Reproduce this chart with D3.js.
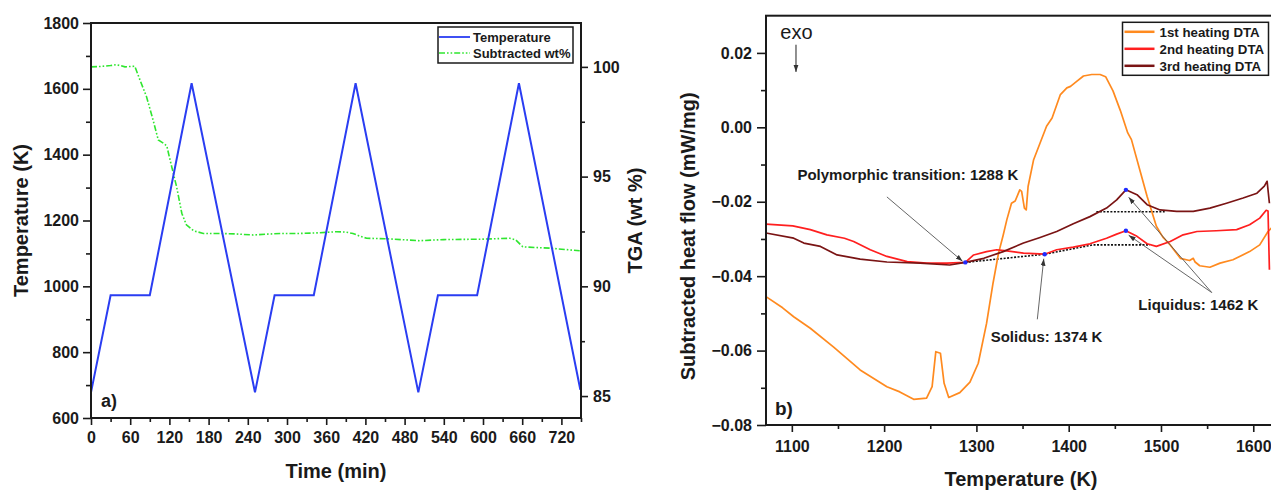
<!DOCTYPE html>
<html>
<head>
<meta charset="utf-8">
<script src="https://cdn.jsdelivr.net/npm/d3@7"></script>
<style>
  body { margin: 0; background: #fff; }
  svg { display: block; font-family: "Liberation Sans", Arial, sans-serif; }
</style>
</head>
<body>
<svg id="chart" width="1271" height="492"></svg>
<script>
// ---------- panel a) : heating cycles + TGA ----------
const cycleTime = [0, 30, 90, 154, 251, 281, 341, 405, 501, 531, 591, 655, 749];
const cycleTemp = [678, 973, 973, 1617, 678, 973, 973, 1617, 678, 973, 973, 1617, 686];

const tgaTime = [0, 15, 30, 39, 46, 52, 60, 67, 75, 85, 95, 103, 110, 116, 121, 131, 139, 146, 157, 172,
  197, 220, 248, 270, 294, 320, 350, 376, 390, 401, 412, 422, 450, 480, 503, 540, 570, 600, 620, 641,
  650, 661, 680, 702, 725, 748];
const tgaWt = [100.0, 100.02, 100.06, 100.1, 100.05, 100.0, 100.02, 100.03, 99.4, 98.64, 97.58, 96.67,
  96.54, 96.4, 95.76, 94.54, 93.33, 92.8, 92.53, 92.41, 92.41, 92.39, 92.34, 92.38, 92.41, 92.41, 92.44,
  92.49, 92.47, 92.41, 92.28, 92.19, 92.17, 92.12, 92.08, 92.13, 92.14, 92.15, 92.17, 92.19, 92.12,
  91.8, 91.77, 91.74, 91.68, 91.62];

const timeTicks = [0, 60, 120, 180, 240, 300, 360, 420, 480, 540, 600, 660, 720];
const tempTicks = [600, 800, 1000, 1200, 1400, 1600, 1800];
const wtTicks = [85, 90, 95, 100];
const legendA = ['Temperature', 'Subtracted wt%'];

// ---------- panel b) : DTA heating runs, [T (K), heat flow (mW/mg)] ----------
const heating1 = [[1072, -0.0455], [1090, -0.0485], [1102, -0.0509], [1120, -0.054], [1145, -0.059],
  [1174, -0.0652], [1203, -0.0697], [1217, -0.0711], [1232, -0.0731], [1246, -0.0728], [1252, -0.0697],
  [1256, -0.0603], [1261, -0.0607], [1265, -0.0688], [1270, -0.0726], [1282, -0.0713], [1293, -0.0685],
  [1302, -0.0634], [1311, -0.0527], [1318, -0.0419], [1324, -0.0338], [1329, -0.029], [1333, -0.0248],
  [1338, -0.0204], [1342, -0.0198], [1347, -0.0168], [1349, -0.0172], [1352, -0.0217], [1354, -0.0222],
  [1356, -0.0159], [1362, -0.0087], [1369, -0.0042], [1376, 0.0003], [1382, 0.0025], [1391, 0.0088],
  [1398, 0.0106], [1402, 0.011], [1409, 0.0124], [1416, 0.0138], [1425, 0.0142], [1434, 0.0142],
  [1440, 0.0136], [1448, 0.0098], [1456, 0.0045], [1464, -0.0015], [1468, -0.0033], [1477, -0.0114],
  [1485, -0.0186], [1495, -0.0266], [1502, -0.0295], [1510, -0.0316], [1521, -0.0352], [1531, -0.0358],
  [1535, -0.0352], [1537, -0.0362], [1542, -0.0372], [1553, -0.0376], [1564, -0.0365], [1578, -0.0356],
  [1596, -0.0334], [1607, -0.0316], [1616, -0.028], [1620, -0.027]];

const heating2 = [[1072, -0.026], [1101, -0.0265], [1120, -0.0275], [1138, -0.0289], [1157, -0.0298],
  [1167, -0.0307], [1185, -0.0329], [1203, -0.0347], [1225, -0.0361], [1246, -0.0365], [1268, -0.0365],
  [1288, -0.0363], [1297, -0.0343], [1311, -0.0334], [1322, -0.0329], [1333, -0.0332], [1351, -0.0338],
  [1374, -0.0341], [1387, -0.0329], [1405, -0.0322], [1423, -0.0313], [1441, -0.0298], [1452, -0.0287],
  [1462, -0.0278], [1474, -0.0293], [1485, -0.0313], [1495, -0.032], [1510, -0.0307], [1524, -0.0289],
  [1539, -0.028], [1560, -0.0278], [1582, -0.0275], [1596, -0.0262], [1607, -0.0244], [1614, -0.0223],
  [1616, -0.0225], [1617.5, -0.0383]];

const heating3 = [[1072, -0.0284], [1102, -0.0298], [1113, -0.0311], [1131, -0.032], [1149, -0.0343],
  [1174, -0.0354], [1203, -0.0362], [1239, -0.0365], [1271, -0.037], [1288, -0.0363], [1308, -0.0352],
  [1329, -0.0334], [1351, -0.0311], [1369, -0.0296], [1387, -0.028], [1405, -0.0259], [1423, -0.024],
  [1441, -0.0217], [1452, -0.0195], [1462, -0.0168], [1474, -0.0181], [1485, -0.0208], [1499, -0.0222],
  [1517, -0.0226], [1535, -0.0226], [1553, -0.0217], [1571, -0.0204], [1589, -0.019], [1604, -0.0177],
  [1612, -0.0158], [1615, -0.0145], [1617.5, -0.0204]];

const dtaNames = ['1st heating DTA', '2nd heating DTA', '3rd heating DTA'];
const dtaColors = ['#ff8a1f', '#ff1f1f', '#7a1414'];
const dtaTicks = [1100, 1200, 1300, 1400, 1500, 1600];
const heatTicks = [-0.08, -0.06, -0.04, -0.02, 0, 0.02];

// picked onsets/peaks and their dotted baselines
const markedPoints = [[1288, -0.0363], [1374, -0.0341], [1462, -0.0278], [1462, -0.0168]];
const baseline2 = [[1288, -0.0363], [1374, -0.0341], [1426, -0.0316], [1488, -0.0316]];
const baseline3 = [[1430, -0.0227], [1504, -0.0227]];

const notes = [
  { text: 'Polymorphic transition: 1288 K', at: [1106, -0.0141],
    arrows: [[[1203, -0.0187], [1285, -0.036]]] },
  { text: 'Solidus: 1374 K', at: [1315.5, -0.0576],
    arrows: [[[1366, -0.0516], [1373, -0.0353]]] },
  { text: 'Liquidus: 1462 K', at: [1475.5, -0.049],
    arrows: [[[1555, -0.0444], [1465, -0.0188]], [[1555, -0.0444], [1465, -0.029]]] },
];

// ---------- drawing ----------
const svg = d3.select('#chart');
const ink = '#1a1a1a';

svg.append('defs').append('marker')
  .attr('id', 'head')
  .attr('viewBox', '0 0 10 10')
  .attr('refX', 10).attr('refY', 5)
  .attr('markerWidth', 7).attr('markerHeight', 7)
  .attr('markerUnits', 'userSpaceOnUse')
  .attr('orient', 'auto')
  .append('path')
  .attr('d', 'M0,1.5L10,5L0,8.5Z')
  .attr('fill', '#333');

function styleAxis(g, fontSize) {
  g.select('.domain').remove();
  g.selectAll('.tick line').attr('stroke', ink).attr('stroke-width', 1.6);
  g.selectAll('.tick text')
    .attr('fill', ink)
    .style('font-size', `${fontSize}px`)
    .style('font-weight', 'bold');
}

function minorTicks(values) {
  const out = [];
  for (let i = 0; i < values.length - 1; i += 1) out.push((values[i] + values[i + 1]) / 2);
  return out;
}

const plain = d3.format('d');

// ----- panel a -----
const A = { left: 91, right: 581, top: 23, bottom: 418 };
const xA = d3.scaleLinear().domain([0, 750]).range([A.left, A.right]);
const yA = d3.scaleLinear().domain([600, 1800]).range([A.bottom, A.top]);
const yA2 = d3.scaleLinear().domain([84, 102]).range([A.bottom, A.top]);

const gA = svg.append('g');

gA.append('g').attr('transform', `translate(0,${A.bottom})`)
  .call(d3.axisBottom(xA).tickValues(minorTicks(timeTicks).concat([750])).tickSize(4).tickFormat(''))
  .call(g => styleAxis(g, 15));
gA.append('g').attr('transform', `translate(0,${A.bottom})`)
  .call(d3.axisBottom(xA).tickValues(timeTicks).tickSize(7).tickPadding(7).tickFormat(plain))
  .call(g => styleAxis(g, 16));

gA.append('g').attr('transform', `translate(${A.left},0)`)
  .call(d3.axisLeft(yA).tickValues(minorTicks(tempTicks)).tickSize(5).tickFormat(''))
  .call(g => styleAxis(g, 15));
gA.append('g').attr('transform', `translate(${A.left},0)`)
  .call(d3.axisLeft(yA).tickValues(tempTicks).tickSize(8).tickPadding(4).tickFormat(plain))
  .call(g => styleAxis(g, 16));

gA.append('g').attr('transform', `translate(${A.right},0)`)
  .call(d3.axisRight(yA2).tickValues(minorTicks(wtTicks)).tickSize(4).tickFormat(''))
  .call(g => styleAxis(g, 15));
gA.append('g').attr('transform', `translate(${A.right},0)`)
  .call(d3.axisRight(yA2).tickValues(wtTicks).tickSize(7).tickPadding(5).tickFormat(plain))
  .call(g => styleAxis(g, 16));

const tempLine = d3.line().x(d => xA(d[0])).y(d => yA(d[1]));
const wtLine = d3.line().x(d => xA(d[0])).y(d => yA2(d[1]));

gA.append('path')
  .datum(tgaTime.map((t, i) => [t, tgaWt[i]]))
  .attr('d', wtLine)
  .attr('fill', 'none')
  .attr('stroke', '#2fe62f')
  .attr('stroke-width', 1.6)
  .attr('stroke-dasharray', '6,2,1.6,2,1.6,2');

gA.append('path')
  .datum(cycleTime.map((t, i) => [t, cycleTemp[i]]))
  .attr('d', tempLine)
  .attr('fill', 'none')
  .attr('stroke', '#2a3df2')
  .attr('stroke-width', 2)
  .attr('stroke-linejoin', 'miter');

gA.append('rect')
  .attr('x', A.left).attr('y', A.top)
  .attr('width', A.right - A.left).attr('height', A.bottom - A.top)
  .attr('fill', 'none').attr('stroke', ink).attr('stroke-width', 2);

// legend a
const legA = gA.append('g').attr('transform', `translate(${A.right - 143},${A.top + 4})`);
legA.append('rect').attr('width', 135).attr('height', 36)
  .attr('fill', '#fff').attr('stroke', ink).attr('stroke-width', 1.5);
legendA.forEach((name, i) => {
  const y = 10 + i * 16;
  legA.append('line').attr('x1', 1).attr('x2', 32).attr('y1', y).attr('y2', y)
    .attr('stroke', i === 0 ? '#2a3df2' : '#2fe62f')
    .attr('stroke-width', i === 0 ? 1.8 : 1.6)
    .attr('stroke-dasharray', i === 0 ? null : '6,2,1.6,2,1.6,2');
  legA.append('text').attr('x', 35).attr('y', y + 5)
    .style('font-size', '13px').style('font-weight', 'bold').attr('fill', ink)
    .text(name);
});

gA.append('text').attr('x', A.left + 10).attr('y', A.bottom - 11)
  .style('font-size', '18px').style('font-weight', 'bold').attr('fill', ink).text('a)');

gA.append('text')
  .attr('transform', `translate(28,${(A.top + A.bottom) / 2}) rotate(-90)`)
  .attr('text-anchor', 'middle')
  .style('font-size', '20px').style('font-weight', 'bold').attr('fill', ink)
  .text('Temperature (K)');
gA.append('text')
  .attr('x', (A.left + A.right) / 2).attr('y', 478)
  .attr('text-anchor', 'middle')
  .style('font-size', '20px').style('font-weight', 'bold').attr('fill', ink)
  .text('Time (min)');
gA.append('text')
  .attr('transform', `translate(642,${(A.top + A.bottom) / 2}) rotate(-90)`)
  .attr('text-anchor', 'middle')
  .style('font-size', '20px').style('font-weight', 'bold').attr('fill', ink)
  .text('TGA (wt %)');

// ----- panel b -----
const B = { left: 766, right: 1272, top: 15.7, bottom: 425 };
const xB = d3.scaleLinear().domain([1072, 1620.3]).range([B.left, B.right]);
const yB = d3.scaleLinear().domain([-0.08, 0.03]).range([B.bottom, B.top]);

const gB = svg.append('g');

gB.append('g').attr('transform', `translate(0,${B.bottom})`)
  .call(d3.axisBottom(xB).tickValues(minorTicks(dtaTicks)).tickSize(4).tickFormat(''))
  .call(g => styleAxis(g, 16));
gB.append('g').attr('transform', `translate(0,${B.bottom})`)
  .call(d3.axisBottom(xB).tickValues(dtaTicks).tickSize(7).tickPadding(9).tickFormat(plain))
  .call(g => styleAxis(g, 16));

gB.append('g').attr('transform', `translate(${B.left},0)`)
  .call(d3.axisLeft(yB).tickValues(minorTicks(heatTicks)).tickSize(5).tickFormat(''))
  .call(g => styleAxis(g, 16));
gB.append('g').attr('transform', `translate(${B.left},0)`)
  .call(d3.axisLeft(yB).tickValues(heatTicks).tickSize(9).tickPadding(5).tickFormat(d3.format('.2f')))
  .call(g => styleAxis(g, 16));

const dtaLine = d3.line().x(d => xB(d[0])).y(d => yB(d[1]));
const plotB = gB.append('g');

[baseline2, baseline3].forEach(b => {
  plotB.append('path').datum(b).attr('d', dtaLine)
    .attr('fill', 'none').attr('stroke', '#111')
    .attr('stroke-width', 1.6).attr('stroke-dasharray', '2,1.5');
});

[heating1, heating2, heating3].forEach((series, i) => {
  plotB.append('path').datum(series).attr('d', dtaLine)
    .attr('fill', 'none').attr('stroke', dtaColors[i])
    .attr('stroke-width', 1.7).attr('stroke-linejoin', 'round');
});

plotB.selectAll('circle.mark').data(markedPoints).join('circle')
  .attr('class', 'mark')
  .attr('cx', d => xB(d[0])).attr('cy', d => yB(d[1])).attr('r', 2.2)
  .attr('fill', '#1f2bff');

notes.forEach(n => {
  n.arrows.forEach(([from, to]) => {
    plotB.append('line')
      .attr('x1', xB(from[0])).attr('y1', yB(from[1]))
      .attr('x2', xB(to[0])).attr('y2', yB(to[1]))
      .attr('stroke', '#555').attr('stroke-width', 0.9)
      .attr('marker-end', 'url(#head)');
  });
  plotB.append('text')
    .attr('x', xB(n.at[0])).attr('y', yB(n.at[1]))
    .style('font-size', '15px').style('font-weight', 'bold').attr('fill', ink)
    .text(n.text);
});

// exo marker
plotB.append('text').attr('x', xB(1087.5)).attr('y', yB(0.0237))
  .style('font-size', '20px').attr('fill', ink).text('exo');
plotB.append('line')
  .attr('x1', xB(1104.5)).attr('y1', yB(0.0222))
  .attr('x2', xB(1104.5)).attr('y2', yB(0.0149))
  .attr('stroke', '#222').attr('stroke-width', 1)
  .attr('marker-end', 'url(#head)');

gB.append('rect')
  .attr('x', B.left).attr('y', B.top)
  .attr('width', B.right - B.left).attr('height', B.bottom - B.top)
  .attr('fill', 'none').attr('stroke', ink).attr('stroke-width', 2);

// legend b
const legB = gB.append('g').attr('transform', `translate(1122.5,${B.top + 6.6})`);
legB.append('rect').attr('width', 146).attr('height', 53)
  .attr('fill', '#fff').attr('stroke', ink).attr('stroke-width', 1.5);
dtaNames.forEach((name, i) => {
  const y = 9.5 + i * 17;
  legB.append('line').attr('x1', 2).attr('x2', 32).attr('y1', y).attr('y2', y)
    .attr('stroke', dtaColors[i]).attr('stroke-width', 2.5);
  legB.append('text').attr('x', 37).attr('y', y + 5)
    .style('font-size', '13.3px').style('font-weight', 'bold').attr('fill', ink)
    .text(name);
});

gB.append('text').attr('x', B.left + 9).attr('y', B.bottom - 10)
  .style('font-size', '19px').style('font-weight', 'bold').attr('fill', ink).text('b)');

gB.append('text')
  .attr('transform', `translate(695,${(B.top + B.bottom) / 2 + 16}) rotate(-90)`)
  .attr('text-anchor', 'middle')
  .style('font-size', '20px').style('font-weight', 'bold').attr('fill', ink)
  .text('Subtracted heat flow (mW/mg)');
gB.append('text')
  .attr('x', 1021).attr('y', 486)
  .attr('text-anchor', 'middle')
  .style('font-size', '20px').style('font-weight', 'bold').attr('fill', ink)
  .text('Temperature (K)');
</script>
</body>
</html>
